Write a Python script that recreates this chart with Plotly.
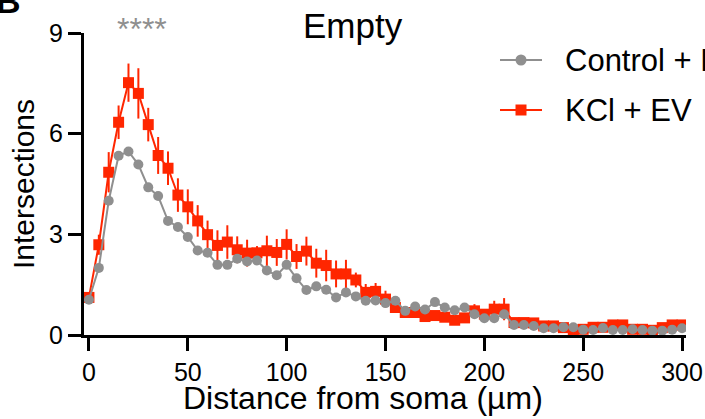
import plotly.graph_objects as go

distance = list(range(0, 301, 5))

control_ev = [1.05, 2.0, 4.0, 5.34, 5.47, 5.08, 4.40, 4.14, 3.40, 3.22,
              2.92, 2.52, 2.45, 2.09, 2.09, 2.27, 2.19, 2.22, 1.92, 1.78,
              2.09, 1.69, 1.34, 1.45, 1.35, 1.12, 1.27, 1.15, 1.02, 1.03,
              0.95, 1.02, 0.72, 0.85, 0.76, 0.98, 0.82, 0.74, 0.82, 0.62,
              0.50, 0.50, 0.62, 0.30, 0.30, 0.27, 0.20, 0.20, 0.23, 0.23,
              0.16, 0.15, 0.21, 0.15, 0.15, 0.17, 0.15, 0.13, 0.13, 0.16, 0.20]

kcl_ev = [1.12, 2.69, 4.85, 6.34, 7.52, 7.2, 6.27, 5.35, 4.97, 4.17,
          3.82, 3.40, 2.99, 2.67, 2.77, 2.54, 2.44, 2.45, 2.51, 2.46,
          2.70, 2.34, 2.50, 2.14, 2.07, 1.82, 1.82, 1.64, 1.27, 1.30,
          1.07, 0.82, 0.67, 0.67, 0.55, 0.58, 0.53, 0.44, 0.51, 0.72,
          0.62, 0.77, 0.77, 0.37, 0.37, 0.36, 0.27, 0.27, 0.22, 0.15,
          0.17, 0.23, 0.23, 0.30, 0.30, 0.17, 0.17, 0.14, 0.22, 0.30, 0.30]

kcl_err = [0.15, 0.3, 0.6, 0.5, 0.57, 0.75, 0.5, 0.55, 0.5, 0.5,
           0.52, 0.47, 0.42, 0.45, 0.5, 0.4, 0.4, 0.2, 0.45, 0.4,
           0.45, 0.37, 0.43, 0.43, 0.47, 0.4, 0.42, 0.22, 0.25, 0.25,
           0.25, 0.15, 0.1, 0.15, 0.15, 0.1, 0.1, 0.1, 0.15, 0.2,
           0.15, 0.25, 0.33, 0.08, 0.06, 0.06, 0.05, 0.05, 0.05, 0.05,
           0.05, 0.05, 0.05, 0.05, 0.05, 0.05, 0.05, 0.05, 0.05, 0.08, 0.08]

series_names = ["Control + EV", "KCl + EV"]
x_ticks = [0, 50, 100, 150, 200, 250, 300]
y_ticks = [0, 3, 6, 9]

RED = "#FF2600"
GRAY = "#8F8F8F"
FONT = "Liberation Sans, Arial, sans-serif"

# plot area in pixels
L, R, T, B = 84, 19, 33, 84
W, H = 705, 419
PW, PH = W - L - R, H - T - B


def px(xp):
    return (xp - L) / PW


def py(yp):
    return 1 - (yp - T) / PH


fig = go.Figure()
fig.add_trace(go.Scatter(
    x=distance, y=kcl_ev, name=series_names[1], mode="lines+markers",
    line=dict(color=RED, width=2),
    marker=dict(symbol="square", size=11, color=RED),
    error_y=dict(type="data", array=kcl_err, color=RED, thickness=2, width=0),
))
fig.add_trace(go.Scatter(
    x=distance, y=control_ev, name=series_names[0], mode="lines+markers",
    line=dict(color=GRAY, width=2),
    marker=dict(symbol="circle", size=10, color=GRAY),
))

shapes = []
annotations = []
legend_items = [(series_names[0], GRAY, "circle", 60), (series_names[1], RED, "rect", 110)]
for name, col, sym, yc in legend_items:
    shapes.append(dict(type="line", xref="paper", yref="paper",
                       x0=px(500), x1=px(542), y0=py(yc), y1=py(yc),
                       line=dict(color=col, width=2)))
    shapes.append(dict(type=sym, xref="paper", yref="paper",
                       xsizemode="pixel", ysizemode="pixel",
                       xanchor=px(521), yanchor=py(yc),
                       x0=-5.5, x1=5.5, y0=-5.5, y1=5.5,
                       fillcolor=col, line=dict(width=0)))
    annotations.append(dict(text=name, xref="paper", yref="paper", x=px(563), y=py(yc),
                            xanchor="left", yanchor="middle", showarrow=False,
                            font=dict(size=31, family=FONT, color="black")))

annotations += [
    dict(text="Empty", xref="paper", yref="paper", x=px(353), y=py(25),
         xanchor="center", yanchor="middle", showarrow=False,
         font=dict(size=35, family=FONT, color="black")),
    dict(text="****", xref="paper", yref="paper", x=px(142), y=py(29),
         xanchor="center", yanchor="middle", showarrow=False,
         font=dict(size=32, family=FONT, color=GRAY)),
    dict(text="<b>B</b>", xref="paper", yref="paper", x=px(-6), y=py(22),
         xanchor="left", yanchor="bottom", showarrow=False,
         font=dict(size=34, family=FONT, color="black")),
    dict(text="Distance from soma (µm)", xref="paper", yref="paper", x=px(363), y=py(398),
         xanchor="center", yanchor="middle", showarrow=False,
         font=dict(size=32, family=FONT, color="black")),
]

fig.update_layout(
    width=W, height=H,
    margin=dict(l=L, r=R, t=T, b=B, autoexpand=False),
    paper_bgcolor="white", plot_bgcolor="white",
    font=dict(family=FONT, color="black"),
    showlegend=False,
    shapes=shapes,
    annotations=annotations,
    xaxis=dict(range=[-2.5, 302], tickvals=x_ticks, showgrid=False, zeroline=False,
               showline=True, linecolor="black", linewidth=3, automargin=False,
               ticks="outside", ticklen=13, tickwidth=3, tickcolor="black",
               tickfont=dict(size=25, family=FONT)),
    yaxis=dict(range=[0, 9], tickvals=y_ticks, showgrid=False, zeroline=False,
               showline=True, linecolor="black", linewidth=3, automargin=False,
               ticks="outside", ticklen=13, tickwidth=3, tickcolor="black",
               tickfont=dict(size=25, family=FONT),
               title=dict(text="Intersections", font=dict(size=30, family=FONT), standoff=6)),
)

fig.write_html("out.html", config={"displayModeBar": False},
               post_script="document.body.style.margin='0px';")
